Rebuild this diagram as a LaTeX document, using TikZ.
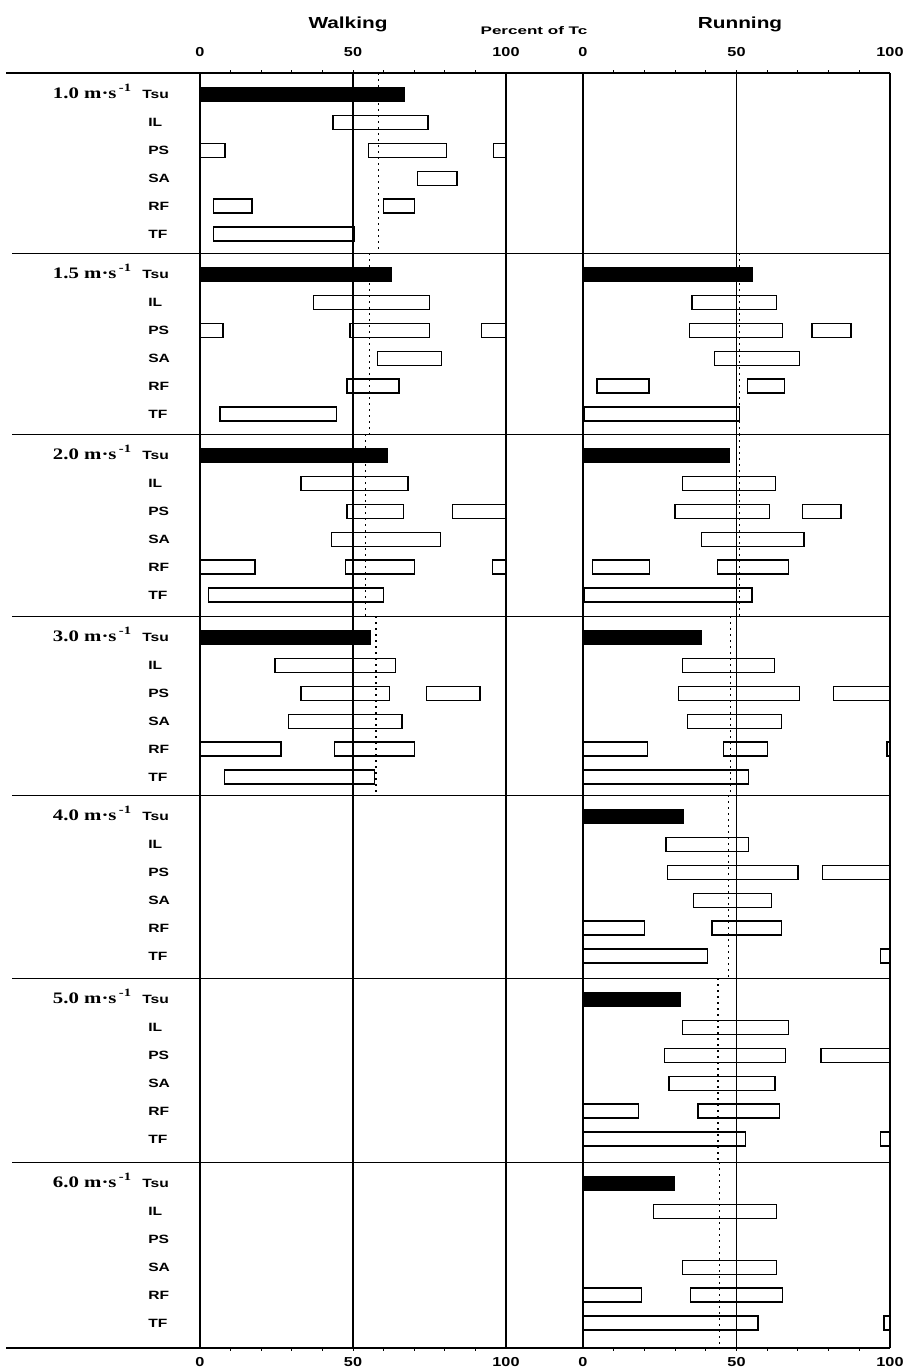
\documentclass[tikz,border=0pt]{standalone}
\usepackage{fontspec}
\setmainfont{Liberation Serif}
\setsansfont{Liberation Sans}

\begin{document}
\begin{tikzpicture}[x=1pt,y=-1pt,
    head/.style={font=\sffamily\bfseries\fontsize{16}{16}\selectfont, xscale=1.3, inner sep=0pt},
    pct/.style={font=\sffamily\bfseries\fontsize{11}{11}\selectfont, xscale=1.55, inner sep=0pt},
    num/.style={font=\sffamily\bfseries\fontsize{13}{13}\selectfont, xscale=1.25, inner sep=0pt},
    row/.style={font=\sffamily\bfseries\fontsize{12}{12}\selectfont, xscale=1.3, inner sep=0pt, anchor=west},
    speed/.style={font=\bfseries\fontsize{16}{16}\selectfont, xscale=1.3, inner sep=0pt, anchor=base east},
    bar/.style={draw, line width=1.3pt},
    mean/.style={line width=1.3pt, dash pattern=on 2pt off 4pt},
    tick/.style={line width=1pt}]
  \useasboundingbox (0,0) rectangle (906,1371);
  % headings
  \node[head] (walk) at (348,24) {Walking};
  \node[pct] (pctc) at (534,31) {Percent of Tc};
  \node[head] (run) at (740,24) {Running};
  % axes
  \draw[line width=1.5pt] (6,73) -- (890,73);
  \draw[line width=1.5pt] (6,1348) -- (890,1348);
  \foreach \y in {253,434,616,795,978,1162}
    \draw[line width=1pt] (12,\y) -- (890,\y);
  \foreach \x in {200,353,506,583,736.5,890}
    \draw[line width=1.2pt] (\x,73) -- (\x,1348);
  \foreach \i in {1,...,9} {
    \draw[tick] ({200+30.6*\i},73) -- ++(0,-3);
    \draw[tick] ({583+30.7*\i},73) -- ++(0,-3);
    \draw[tick] ({200+30.6*\i},1348) -- ++(0,3);
    \draw[tick] ({583+30.7*\i},1348) -- ++(0,3);
  }
  \foreach \p in {0,50,100} {
    \node[num] (wt\p) at ({200+3.06*\p},52) {\p};
    \node[num] (rt\p) at ({583+3.07*\p},52) {\p};
    \node[num] (wb\p) at ({200+3.06*\p},1362) {\p};
    \node[num] (rb\p) at ({583+3.07*\p},1362) {\p};
  }
  % labels
  \foreach \sy/\v in {73/1.0,253/1.5,434/2.0,616/3.0,795/4.0,978/5.0,1162/6.0} {
    \node[speed] (v\sy) at (132,\sy+25) {\v\ m·s\textsuperscript{\,-1}};
    \node[row] (tsu\sy) at (142,\sy+21.5) {Tsu};
    \foreach \r/\m in {1/IL,2/PS,3/SA,4/RF,5/TF}
      \node[row] (\m\sy) at (148,{\sy+21.5+27.9*\r}) {\m};
  }
  % walking
  \begin{scope}[xshift=200pt, x=3.06pt]
    \foreach \sy/\b in {73/67,253/62.7,434/61.3,616/56}
      \fill (0,\sy+14) rectangle (\b,\sy+29);
    \foreach \sy/\r/\a/\b in {73/1/43.5/74.5, 73/2/0/8.2, 73/2/55/80.5, 73/2/96/100, 73/3/71/84,
        73/4/4.5/17, 73/4/60/70, 73/5/4.5/50.5,
        253/1/37/75, 253/2/0/7.5, 253/2/49/75, 253/2/92/100, 253/3/58/79, 253/4/48/65, 253/5/6.5/44.5,
        434/1/33/68, 434/2/48/66.5, 434/2/82.5/100, 434/3/43/78.5, 434/4/0/18, 434/4/47.5/70,
        434/4/95.5/100, 434/5/2.7/60,
        616/1/24.5/64, 616/2/33/62, 616/2/74/91.5, 616/3/29/66, 616/4/0/26.5, 616/4/44/70, 616/5/8/57}
      \draw[bar] (\a,{\sy+14.5+27.9*\r}) rectangle (\b,{\sy+28.5+27.9*\r});
    \foreach \sy/\ey/\m in {73/253/58.3,253/434/55.3,434/616/54,616/795/57.5}
      \draw[mean] (\m,\sy) -- (\m,\ey);
  \end{scope}
  % running
  \begin{scope}[xshift=583pt, x=3.07pt]
    \foreach \sy/\b in {253/55.5,434/47.8,616/38.8,795/33,978/32,1162/30}
      \fill (0,\sy+14) rectangle (\b,\sy+29);
    \foreach \sy/\r/\a/\b in {253/1/35.5/63, 253/2/34.6/65, 253/2/74.6/87.3, 253/3/42.8/70.5,
        253/4/4.6/21.5, 253/4/53.6/65.7, 253/5/0.5/51,
        434/1/32.5/62.7, 434/2/30/60.7, 434/2/71.5/84, 434/3/38.5/72, 434/4/3/21.7, 434/4/43.7/67, 434/5/0.3/55,
        616/1/32.3/62.3, 616/2/31/70.5, 616/2/81.5/100, 616/3/34/64.7, 616/4/0/21, 616/4/45.7/60,
        616/4/99/100, 616/5/0/53.8,
        795/1/27/54, 795/2/27.5/70, 795/2/78/100, 795/3/36/61.5, 795/4/0/20, 795/4/42/64.6,
        795/5/0/40.5, 795/5/97/100,
        978/1/32.5/67, 978/2/26.5/66, 978/2/77.5/100, 978/3/28/62.5, 978/4/0/18, 978/4/37.5/64,
        978/5/0/53, 978/5/97/100,
        1162/1/23/63, 1162/3/32.5/63, 1162/4/0/19, 1162/4/35/65, 1162/5/0/57, 1162/5/98/100}
      \draw[bar] (\a,{\sy+14.5+27.9*\r}) rectangle (\b,{\sy+28.5+27.9*\r});
    \foreach \sy/\ey/\m in {253/434/51,434/616/51,616/795/48,795/978/47.5,978/1162/44,1162/1348/44.5}
      \draw[mean] (\m,\sy) -- (\m,\ey);
  \end{scope}
\end{tikzpicture}
\end{document}
